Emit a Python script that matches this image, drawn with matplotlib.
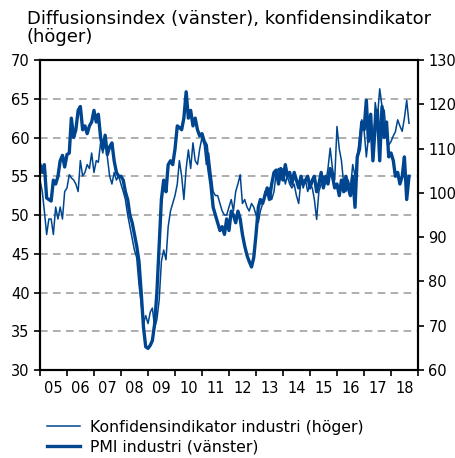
import matplotlib
matplotlib.use("Agg")
import matplotlib.pyplot as plt
import matplotlib.dates as mdates
import pandas as pd

# PMI industri (vänster), månadsvärden från jan 2005
pmi = [56.5, 55.5, 56.5, 52.2, 52.0, 51.8, 54.5, 54.0, 55.0, 57.0, 57.7, 56.2,
       57.8, 58.0, 62.5, 60.0, 61.0, 63.5, 64.0, 61.0, 61.5, 60.5, 61.5, 62.0,
       63.5, 62.0, 63.0, 60.0, 58.5, 60.3, 57.8, 58.8, 59.3, 57.0, 55.5, 55.0,
       55.0, 54.5, 53.0, 52.0, 50.0, 49.0, 47.5, 46.0, 44.0, 40.0, 35.5, 33.0,
       32.8, 33.2, 33.8, 36.0, 40.0, 46.0, 52.0, 54.5, 53.0, 56.5, 57.0, 56.5,
       58.5, 61.5, 61.3, 61.0, 62.5, 65.9, 62.5, 63.5, 61.5, 62.5, 61.0, 60.2,
       60.5, 59.5, 59.0, 56.0, 54.0, 51.0, 50.0, 49.0, 48.0, 48.5, 47.5, 49.5,
       48.0, 50.5, 50.0, 49.0, 50.5, 49.5, 47.5, 46.0, 44.8, 44.0, 43.3, 44.5,
       47.5, 51.0, 52.0, 51.5, 52.5, 53.5, 52.0, 54.0, 55.5, 55.8, 54.0, 56.0,
       54.5, 56.5, 55.0, 55.5, 54.0, 55.5, 54.5, 53.5, 55.0, 54.0, 54.5, 55.0,
       53.5, 54.5, 55.0, 53.0, 54.0, 55.5, 53.5, 55.0, 54.0, 56.0, 55.0, 53.5,
       54.0, 52.5, 54.5, 53.0, 55.0, 53.5, 52.5, 55.0, 51.0, 57.5, 58.5, 62.0,
       61.0, 64.8, 59.5, 63.0, 57.0, 61.5, 63.5, 57.0, 64.0, 60.0, 62.0, 57.5,
       58.0, 57.0, 55.0, 55.5, 54.0, 55.0, 57.5, 52.0, 55.0]

# Konfidensindikator industri (höger)
konf = [102.9, 100.3, 95.9, 90.6, 94.1, 94.1, 90.6, 96.8, 94.1, 96.8, 94.1, 100.3,
        101.1, 104.1, 103.4, 102.9, 102.0, 100.3, 107.3, 103.8, 104.6, 106.4, 105.5, 109.0,
        104.6, 107.3, 106.9, 111.3, 109.0, 113.0, 108.1, 103.8, 102.0, 104.6, 102.9, 103.8,
        102.0, 100.3, 98.5, 95.0, 92.4, 89.8, 87.1, 85.4, 79.3, 74.9, 70.5, 72.3,
        70.5, 73.1, 74.0, 69.6, 71.4, 75.8, 84.5, 87.1, 84.9, 92.4, 95.9, 97.6,
        99.4, 102.0, 107.3, 103.8, 98.5, 105.5, 109.7, 105.5, 111.3, 107.3, 106.4, 109.9,
        112.5, 110.8, 106.4, 109.0, 104.6, 100.3, 99.4, 99.4, 97.6, 95.9, 95.0, 95.0,
        96.8, 98.5, 95.9, 100.3, 102.0, 104.1, 97.6, 98.5, 96.8, 95.9, 97.6, 96.8,
        95.0, 93.3, 95.9, 97.6, 100.3, 99.4, 101.1, 98.5, 100.3, 104.6, 105.5, 102.9,
        105.5, 102.0, 103.8, 102.0, 101.1, 102.0, 99.4, 97.6, 102.9, 101.1, 102.9, 100.3,
        102.0, 101.1, 98.5, 94.0, 100.3, 102.0, 103.8, 102.0, 105.5, 110.1, 105.5, 102.9,
        115.0, 109.9, 107.3, 102.0, 100.3, 102.9, 101.1, 106.4, 103.8, 108.1, 112.5, 116.5,
        114.3, 108.1, 112.5, 115.1, 109.0, 120.4, 116.9, 123.5, 119.5, 118.6, 112.5, 110.8,
        111.6, 112.9, 113.8, 116.5, 115.1, 113.9, 116.9, 120.9, 115.7]

dates = pd.date_range("2005-01-01", periods=len(pmi), freq="MS")
blue = "#00458f"

fig = plt.figure(figsize=(4.56, 4.58), dpi=100)
ax = fig.add_axes([0.0877, 0.192, 0.829, 0.677])
ax2 = ax.twinx()

l1, = ax2.plot(dates, konf, color=blue, lw=1.1, label="Konfidensindikator industri (höger)")
l2, = ax.plot(dates, pmi, color=blue, lw=2.4, label="PMI industri (vänster)")

ax.set_ylim(30, 70)
ax2.set_ylim(60, 130)
ax.set_yticks(range(30, 71, 5))
ax2.set_yticks(range(60, 131, 10))
ax.set_xlim(pd.Timestamp("2005-01-01"), pd.Timestamp("2019-01-01"))

for y in range(35, 70, 5):
    ax.axhline(y, color="#999999", lw=1.1, ls=(0, (5, 3.5)), zorder=0)

ax.xaxis.set_major_locator(mdates.YearLocator())
ax.xaxis.set_major_formatter(plt.NullFormatter())
ax.xaxis.set_minor_locator(mdates.MonthLocator(bymonth=7, bymonthday=1))
ax.xaxis.set_minor_formatter(mdates.DateFormatter("%y"))
ax.tick_params(axis="x", which="major", direction="out", length=4, width=1.2)
ax.tick_params(axis="x", which="minor", length=0, labelsize=10.5, pad=8)
ax.tick_params(axis="y", direction="out", length=4, width=1.2, labelsize=10.5)
ax2.tick_params(axis="y", direction="out", length=4, width=1.2, labelsize=10.5)

for a in (ax, ax2):
    for s in a.spines.values():
        s.set_linewidth(1.5)
        s.set_color("black")

fig.text(0.059, 0.978, "Diffusionsindex (vänster), konfidensindikator\n(höger)",
         fontsize=13, va="top", ha="left", linespacing=1.0)

fig.legend(handles=[l1, l2], loc="upper left", bbox_to_anchor=(0.103, 0.083),
           frameon=False, fontsize=11.3, handlelength=2.1, handletextpad=0.64,
           labelspacing=0.3, borderaxespad=0, borderpad=0)

plt.savefig("out.png", dpi=100)
